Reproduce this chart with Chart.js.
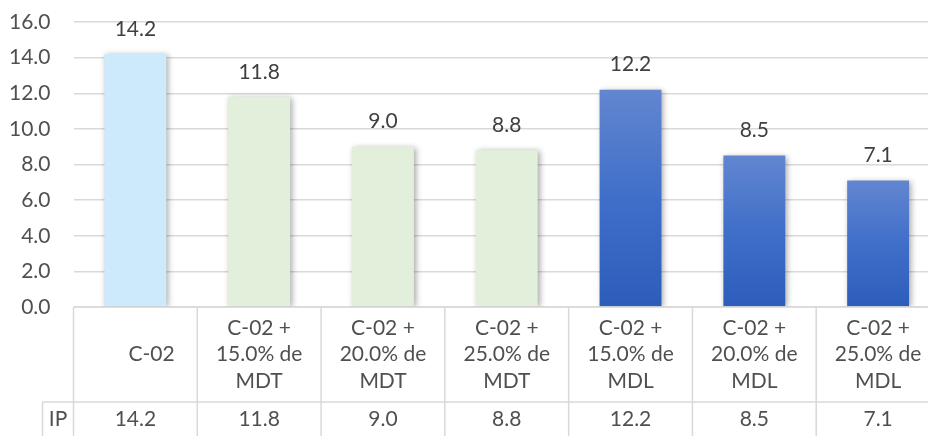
<!DOCTYPE html>
<html>
<head>
<meta charset="utf-8">
<script src="https://cdn.jsdelivr.net/npm/chart.js@4/dist/chart.umd.min.js"></script>
<style>
  html, body { margin: 0; padding: 0; background: #fff; }
  body { width: 928px; height: 436px; overflow: hidden; }
  #wrap { width: 960px; height: 436px; }
</style>
</head>
<body>
<div id="wrap"><canvas id="chart"></canvas></div>
<script>
// categories (wrapped as they appear in the table header)
const categories = [
  ["      C-02"],
  ["C-02 +", "15.0% de", "MDT"],
  ["C-02 +", "20.0% de", "MDT"],
  ["C-02 +", "25.0% de", "MDT"],
  ["C-02 +", "15.0% de", "MDL"],
  ["C-02 +", "20.0% de", "MDL"],
  ["C-02 +", "25.0% de", "MDL"]
];
const seriesName = "IP";
const ipValues = [14.2, 11.8, 9.0, 8.8, 12.2, 8.5, 7.1];
const yTicks = [0, 2, 4, 6, 8, 10, 12, 14, 16];

const textColor = "#505050";
const lineColor = "#d9d9d9";
const fontFamily = "Lato, 'Open Sans', sans-serif";
const fontSize = 21;

// fill per bar: plain, plain green, blue gradient
function barFill(ctx) {
  const i = ctx.dataIndex;
  if (i === 0) return "#cdeafc";
  if (i <= 3) return "#e2efda";
  const chart = ctx.chart;
  if (!chart.chartArea) return "#4472c4";
  const y = chart.scales.y;
  const top = y.getPixelForValue(ctx.raw);
  const bottom = y.getPixelForValue(0);
  const g = chart.ctx.createLinearGradient(0, top, 0, bottom);
  g.addColorStop(0, "#6286d0");
  g.addColorStop(0.5, "#3f6fc9");
  g.addColorStop(1, "#2d5dbb");
  return g;
}

const barShadow = {
  id: "barShadow",
  beforeDatasetsDraw(chart) {
    const c = chart.ctx;
    c.save();
    c.shadowColor = "rgba(0,0,0,0.35)";
    c.shadowBlur = 6;
    c.shadowOffsetX = 2;
    c.shadowOffsetY = 1;
  },
  afterDatasetsDraw(chart) {
    const c = chart.ctx;
    c.restore();
    // value labels above bars
    const meta = chart.getDatasetMeta(0);
    c.save();
    c.font = fontSize + "px " + fontFamily;
    c.fillStyle = "#404040";
    c.textAlign = "center";
    c.textBaseline = "middle";
    meta.data.forEach((bar, i) => {
      c.fillText(ipValues[i].toFixed(1), bar.x, bar.y - 25);
    });
    c.restore();
  }
};

// data table under the plot
const dataTable = {
  id: "dataTable",
  afterDraw(chart) {
    const c = chart.ctx;
    const area = chart.chartArea;
    const x = chart.scales.x;
    const n = categories.length;
    const cellW = (area.right - area.left) / n;
    const top = area.bottom;
    const rowSplit = top + 95;
    const bottom = chart.height;
    const rowLabelLeft = area.left - 31;

    c.save();
    c.strokeStyle = lineColor;
    c.lineWidth = 1.5;
    c.beginPath();
    c.moveTo(area.left, top); c.lineTo(area.right, top);
    c.moveTo(rowLabelLeft, rowSplit); c.lineTo(area.right, rowSplit);
    c.moveTo(rowLabelLeft, rowSplit); c.lineTo(rowLabelLeft, bottom);
    for (let i = 0; i <= n; i++) {
      const lx = area.left + i * cellW;
      c.moveTo(lx, top); c.lineTo(lx, bottom);
    }
    c.stroke();

    c.font = fontSize + "px " + fontFamily;
    c.fillStyle = textColor;
    c.textAlign = "center";
    c.textBaseline = "middle";
    const lineH = 26.5;
    categories.forEach((lines, i) => {
      const cx = x.getPixelForValue(i);
      const mid = (top + rowSplit) / 2;
      const start = mid - (lines.length - 1) * lineH / 2;
      lines.forEach((t, k) => c.fillText(t, cx, start + k * lineH));
      c.fillText(ipValues[i].toFixed(1), cx, rowSplit + 17);
    });
    c.fillText(seriesName, (rowLabelLeft + area.left) / 2, rowSplit + 17);
    c.restore();
  }
};

new Chart(document.getElementById("chart"), {
  type: "bar",
  data: {
    labels: categories.map((l) => l.join(" ").trim()),
    datasets: [{
      label: seriesName,
      data: ipValues,
      backgroundColor: barFill,
      borderWidth: 0,
      barPercentage: 0.5,
      categoryPercentage: 1
    }]
  },
  options: {
    responsive: true,
    maintainAspectRatio: false,
    animation: false,
    layout: { padding: { top: 22, right: 20, bottom: 129, left: 0 } },
    plugins: { legend: { display: false }, tooltip: { enabled: false } },
    scales: {
      x: { display: false },
      y: {
        min: yTicks[0],
        max: yTicks[yTicks.length - 1],
        afterBuildTicks(scale) {
          scale.ticks = yTicks.map((v) => ({ value: v }));
        },
        afterFit(scale) {
          scale.width = 73.5;
          scale.paddingTop = 0;
          scale.paddingBottom = 0;
        },
        border: { display: false },
        grid: { color: lineColor, lineWidth: 1.5, drawTicks: false },
        ticks: {
          padding: 23,
          color: textColor,
          font: { family: fontFamily, size: fontSize },
          callback: (v) => Number(v).toFixed(1)
        }
      }
    }
  },
  plugins: [barShadow, dataTable]
});
</script>
</body>
</html>
